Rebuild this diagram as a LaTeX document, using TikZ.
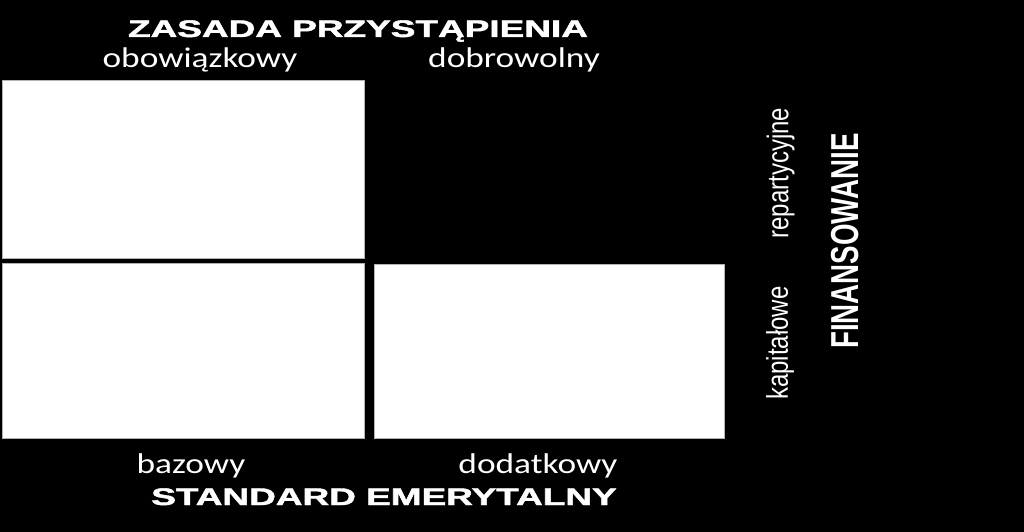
\documentclass[tikz,border=0pt]{standalone}
\usepackage{fontspec}
\setmainfont{Liberation Sans}
\newfontfamily\calfont{Carlito}
\newfontfamily\heavyfont[FakeBold=1.6]{Liberation Sans Bold}
\usepackage{tikz}

\tikzset{
  head/.style={text=white, font=\heavyfont\fontsize{24}{28}\selectfont, inner sep=0pt, anchor=base, xscale=1.54},
  sub/.style={text=white, font=\calfont\fontsize{28.5}{32}\selectfont, inner sep=0pt, anchor=base, xscale=1.24},
  side/.style={text=white, font=\fontsize{30}{32}\selectfont, inner sep=0pt, rotate=90, xscale=0.8},
  sidehead/.style={text=white, font=\bfseries\fontsize{39}{42}\selectfont, inner sep=0pt, rotate=90, xscale=0.71},
  field/.style={fill=white, draw=gray!60, line width=0.6pt}
}

\begin{document}
\begin{tikzpicture}[x=1pt, y=-1pt]
				\fill[black] (0, 0) rectangle (1024, 532);
				\useasboundingbox (0, 0) rectangle (1024, 532);
				\draw[field] (2, 80) rectangle (364, 258);
				\draw[field] (2, 263) rectangle (364, 438);
				\draw[field] (374, 264) rectangle (724, 438);
				\node[head] (zasada) at (358, 37) {ZASADA PRZYSTĄPIENIA};
				\node[sub] (obow) at (200, 68) {obowiązkowy};
				\node[sub] (dobr) at (514, 68) {dobrowolny};
				\node[sub] (baz) at (191, 473) {bazowy};
				\node[sub] (dodat) at (538, 473) {dodatkowy};
				\node[head] (standard) at (384, 505) {STANDARD EMERYTALNY};
				\node[side] (repart) at (780.5, 173) {repartycyjne};
				\node[side] (kapit) at (780, 343) {kapitałowe};
				\node[sidehead] (finans) at (845, 241) {FINANSOWANIE};
			\end{tikzpicture}
\end{document}
